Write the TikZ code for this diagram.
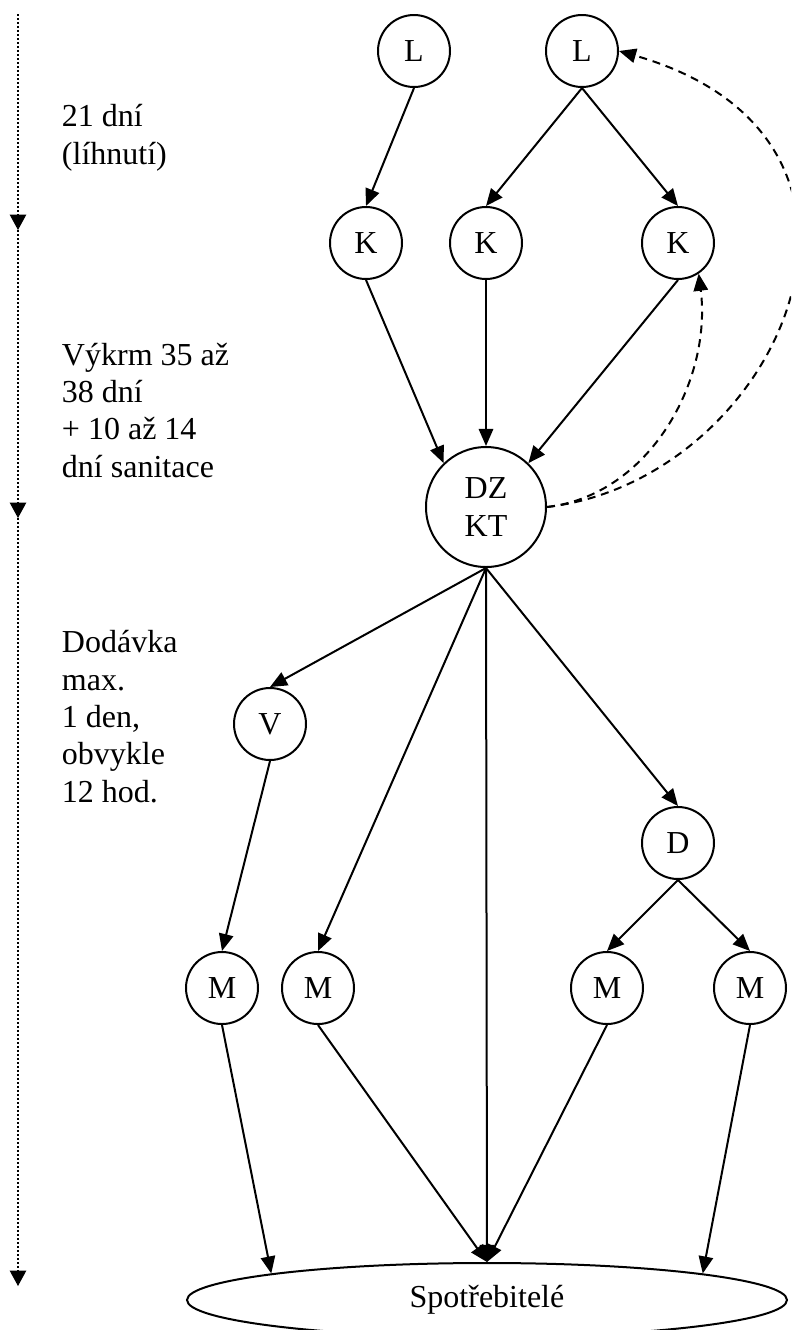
\documentclass[tikz,border=0pt]{standalone}
\usepackage{fontspec}
\setmainfont{Liberation Serif}
\usetikzlibrary{arrows.meta,shapes.geometric}

\begin{document}
\begin{tikzpicture}[x=0.375pt,y=-0.375pt,line width=0.75pt,
    uzel/.style={circle,draw,inner sep=0pt,minimum size=27pt,font=\fontsize{12}{14}\selectfont},
    hrana/.style={-{Triangle[length=6.4pt,width=5.4pt]}},
    zpet/.style={dash pattern=on 3pt off 2.2pt,-{Triangle[length=6.4pt,width=5.4pt]}},
    cas/.style={line width=0.4pt,dash pattern=on 0.75pt off 0.75pt,-{Triangle[length=5.8pt,width=6.2pt]}},
    popis/.style={align=left,anchor=base west,inner sep=0pt,font=\fontsize{12}{14}\selectfont}]

      \clip (0,0) rectangle (791,1330);

      % casova osa
      \coordinate (c0) at (18,14);
      \coordinate (c1) at (18,230);
      \coordinate (c2) at (18,518);
      \coordinate (c3) at (18,1286);
      \draw[cas] (c0) -- (c1);
      \draw[cas] (c1) -- (c2);
      \draw[cas] (c2) -- (c3);

      % base = posledni radek
      \node[popis] (t1) at (61,164) {21 dní\\(líhnutí)};
      \node[popis] (t2) at (61,477) {Výkrm 35 až\\38 dní\\+ 10 až 14\\dní sanitace};
      \node[popis] (t3) at (61,802) {Dodávka\\max.\\1 den,\\obvykle\\12 hod.};

      % uzly
      \node[uzel] (L1) at (414,51)  {L};
      \node[uzel] (L2) at (582,51)  {L};
      \node[uzel] (K1) at (366,243) {K};
      \node[uzel] (K2) at (486,243) {K};
      \node[uzel] (K3) at (678,243) {K};
      \node[uzel,minimum size=45pt,align=center] (DZ) at (486,507) {DZ\\KT};
      \node[uzel] (V)  at (270,724) {V};
      \node[uzel] (D)  at (678,843) {D};
      \node[uzel] (M1) at (222,988) {M};
      \node[uzel] (M2) at (318,988) {M};
      \node[uzel] (M3) at (607,988) {M};
      \node[uzel] (M4) at (750,988) {M};
      \node[ellipse,draw,inner sep=0pt,minimum width=225pt,minimum height=27.75pt,
            font=\fontsize{12}{14}\selectfont] (S) at (487,1300) {Spotřebitelé};

      % hrany
      \draw[hrana] (L1.south) -- (K1.north);
      \draw[hrana] (L2.south) -- (K2.north);
      \draw[hrana] (L2.south) -- (K3.north);
      \draw[hrana] (K1.south) -- (DZ.134);
      \draw[hrana] (K2.south) -- (DZ.north);
      \draw[hrana] (K3.south) -- (DZ.46);
      \draw[hrana] (DZ.south) -- (V.north);
      \draw[hrana] (DZ.south) -- (M2.north);
      \draw[hrana] (DZ.south) -- (S.north);
      \draw[hrana] (DZ.south) -- (D.north);
      \draw[hrana] (V.south) -- (M1.north);
      \draw[hrana] (D.south) -- (M3.north);
      \draw[hrana] (D.south) -- (M4.north);
      \draw[hrana] (M1.south) -- (S.173);
      \draw[hrana] (M2.south) -- (S.north);
      \draw[hrana] (M3.south) -- (S.north);
      \draw[hrana] (M4.south) -- (S.7);

      % zpetne vazby
      \draw[zpet] (DZ.east) .. controls (780,480) and (930,140) .. (L2.east);
      \draw[zpet] (DZ.east) .. controls (650,495) and (712,380) .. (K3.-56);
    \end{tikzpicture}
\end{document}
